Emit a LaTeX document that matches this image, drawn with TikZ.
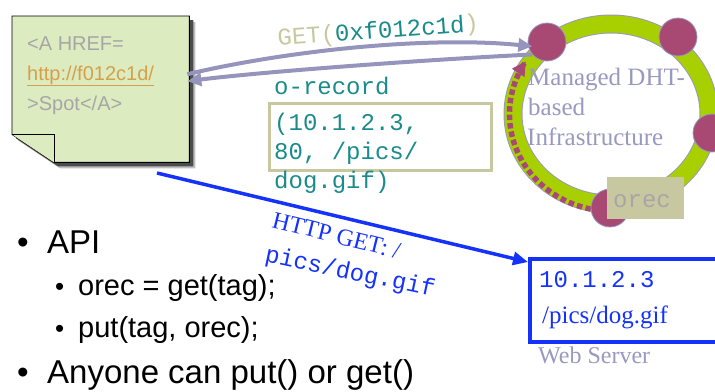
\documentclass[tikz,border=0pt]{standalone}
\usepackage{fontspec}
\setmainfont{Liberation Serif}
\setsansfont{Liberation Sans}
\setmonofont{Liberation Mono}
\usetikzlibrary{arrows.meta,calc}

\definecolor{notefill}{RGB}{221,235,192}
\definecolor{notetext}{RGB}{166,166,166}
\definecolor{linktext}{RGB}{212,160,76}
\definecolor{lavline}{RGB}{148,148,188}
\definecolor{lavtext}{RGB}{153,153,192}
\definecolor{ringgreen}{RGB}{168,208,0}
\definecolor{dhtnode}{RGB}{168,73,115}
\definecolor{khaki}{RGB}{200,200,160}
\definecolor{tealtext}{RGB}{26,138,138}
\definecolor{webblue}{RGB}{20,50,250}

\newcommand\setfs[2]{\fontsize{#1}{#2}\selectfont}

\begin{document}
\begin{tikzpicture}[x=1pt,y=-1pt,
  txt/.style={inner sep=0pt,anchor=base west},
  notetxt/.style={txt,font=\sffamily\setfs{20}{30},text=notetext},
  monotxt/.style={txt,font=\ttfamily\setfs{24}{30}},
  dhttxt/.style={txt,font=\rmfamily\setfs{25}{30},text=lavtext},
  dhtdot/.style={circle,fill=dhtnode,draw=lavtext,line width=0.8pt,minimum size=38pt,inner sep=0pt},
  hopdash/.style={rectangle,fill=dhtnode,minimum size=5.5pt,inner sep=0pt},
  lavarrow/.style={draw=lavline,line width=4pt,-{Triangle[length=14pt,width=13pt]}},
  bulletA/.style={txt,font=\sffamily\setfs{33}{38}},
  bulletB/.style={txt,font=\sffamily\setfs{29}{34}},
]
\useasboundingbox (0,0) rectangle (715,391);

% ---- sticky note with folded corner and drop shadow ----
\node[inner sep=0pt,minimum width=177pt,minimum height=146pt,anchor=north west] (note) at (12,16) {};
\fill[black,opacity=0.25] ($(note.north west)+(6,6)$) -- ($(note.north east)+(6,6)$) -- ($(note.south east)+(6,6)$) -- ($(note.south west)+(48,6)$) -- ($(note.south west)+(6,-22)$) -- cycle;
\fill[black!70] ($(note.north west)+(4,4)$) -- ($(note.north east)+(4,4)$) -- ($(note.south east)+(4,4)$) -- ($(note.south west)+(46,4)$) -- ($(note.south west)+(4,-24)$) -- cycle;
\draw[fill=notefill,line width=0.9pt] (note.north west) -- (note.north east) -- (note.south east) -- ($(note.south west)+(42,0)$) -- ($(note.south west)+(0,-28)$) -- cycle;
\draw[fill=notefill,line width=0.9pt] ($(note.south west)+(0,-28)$) -- ($(note.south west)+(42,-28)$) -- ($(note.south west)+(42,0)$);
\node[notetxt] (href1) at (27,50) {<A HREF=};
\node[notetxt,text=linktext] (href2) at (27,80) {\underline{http://f012c1d/}};
\node[notetxt] (href3) at (27,110) {>Spot</A>};

% ---- DHT ring ----
\draw[lavtext,line width=19pt] (611,114) ellipse [x radius=98, y radius=90];
\draw[ringgreen,line width=17pt] (611,114) ellipse [x radius=98, y radius=90];
% lookup path travelling round the ring: a row of short dashes and an arrow tip
\foreach \a in {103,108,...,203}
  \node[hopdash,rotate=-\a] at ({611+101.5*cos(\a)},{114+97*sin(\a)}) {};
\draw[dhtnode,line width=5pt,-{Triangle[length=14pt,width=14pt]}]
  plot[domain=207:213,samples=5] ({611+101.5*cos(\x)},{114+97*sin(\x)});
\node[dhtdot] (n1) at (547,42) {};
\node[dhtdot] (n2) at (678,37) {};
\node[dhtdot] (n3) at (712,133) {};
\node[dhtdot] (n4) at (610,208) {};
\node[dhttxt] (dht1) at (528,85) {Managed DHT-};
\node[dhttxt] (dht2) at (528,115) {based};
\node[dhttxt] (dht3) at (527,145) {Infrastructure};
\node[fill=khaki,minimum width=77pt,minimum height=42pt,inner sep=0pt,anchor=north west] (orecbox) at (607,177) {};
\node[monotxt,text=notetext] (oreclbl) at (613,207) {orec};

% ---- lookup arrows between note and ring ----
\draw[lavarrow] ($(note.east)+(-2,-15)$) .. controls (290,50) and (430,36) .. ($(n1.196)+(4,-1)$);
\draw[lavarrow] (n1.220) .. controls (420,60) and (260,72) .. ($(note.east)+(-2,-8)$);
\node[monotxt,rotate=4.3,text=khaki] (getlbl) at (278,46) {GET(\textcolor{tealtext}{0xf012c1d})};

% ---- o-record ----
\node[monotxt,text=tealtext] (orecname) at (274,94) {o-record};
\node[draw=khaki,line width=3pt,minimum width=222pt,minimum height=67pt,inner sep=0pt,anchor=north west] (orecrect) at (268,102) {};
\node[monotxt,text=tealtext] (oline1) at (274,130) {(10.1.2.3,};
\node[monotxt,text=tealtext] (oline2) at (274,159) {80, /pics/};
\node[monotxt,text=tealtext] (oline3) at (274,188) {dog.gif)};

% ---- web server ----
\node[draw=webblue,line width=3.5pt,minimum width=200pt,minimum height=83pt,inner sep=0pt,anchor=north west] (web) at (528,257) {};
\node[monotxt,text=webblue] (webip) at (539,287) {10.1.2.3};
\node[txt,font=\rmfamily\setfs{25}{30},text=webblue] (webpath) at (542,323) {/pics/dog.gif};
\node[txt,font=\rmfamily\setfs{24}{30},text=lavtext] (weblbl) at (538,363) {Web Server};

\coordinate (httpstart) at (157,173);
\draw[webblue,line width=3.5pt,-{Triangle[length=15pt,width=13pt]}] (httpstart) -- ($(web.north west)+(0,5)$);
\node[txt,rotate=-14,font=\rmfamily\setfs{24}{30},text=webblue] (http1) at (271,227) {HTTP GET: /};
\node[monotxt,rotate=-12,text=webblue] (http2) at (264,261) {pics/dog.gif};

% ---- API bullets ----
\node[bulletA] (b1) at (17,253) {•};
\node[bulletA] (api) at (47,253) {API};
\node[txt,font=\sffamily\setfs{26}{30}] (b2) at (55,295) {•};
\node[bulletB] (get) at (78,295) {orec = get(tag);};
\node[txt,font=\sffamily\setfs{26}{30}] (b3) at (55,337) {•};
\node[bulletB] (put) at (78,337) {put(tag, orec);};
\node[bulletA] (b4) at (17,383) {•};
\node[bulletA] (anyone) at (47,383) {Anyone can put() or get()};
\end{tikzpicture}
\end{document}
